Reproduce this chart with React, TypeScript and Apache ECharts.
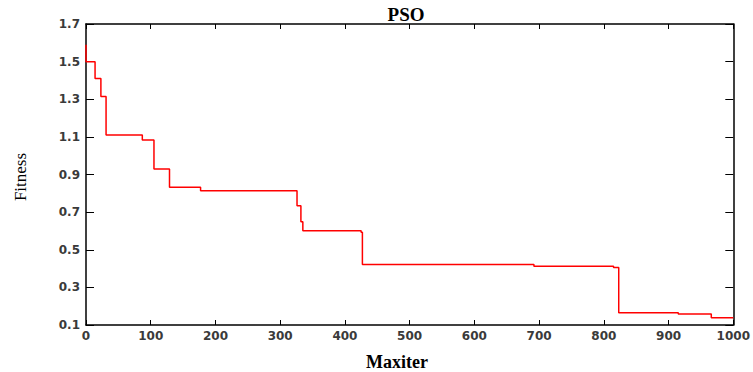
import React, { useEffect, useRef } from "react";
import * as echarts from "echarts";

const iterX: number[] = [0, 0, 14, 23, 31, 87, 105, 129, 177, 326, 332, 335, 425, 427, 692, 815, 823, 915, 966, 1000];
const fitnessY: number[] = [1.59, 1.5, 1.41, 1.314, 1.11, 1.083, 0.929, 0.832, 0.814, 0.734, 0.649, 0.601, 0.593, 0.422, 0.412, 0.405, 0.165, 0.158, 0.139, 0.139];
const titleText = "PSO";
const xName = "Maxiter";
const yName = "Fitness";

export default function App() {
  const ref = useRef<HTMLDivElement>(null);
  useEffect(() => {
    if (!ref.current) return;
    const chart = echarts.init(ref.current, null, { renderer: "svg" });
    const data = iterX.map((x, i) => [x, fitnessY[i]]);
    const axisLine = { show: true, onZero: false, lineStyle: { color: "#000", width: 1.5 } };
    const labelStyle = { fontFamily: "DejaVu Sans", fontSize: 12, fontWeight: "bold" as const, color: "#3a3a3a" };
    chart.setOption({
      animation: false,
      backgroundColor: "#fff",
      grid: { left: 86, top: 24, width: 649, height: 301, containLabel: false },
      graphic: [
        { type: "text", x: 406, y: 14, style: { text: titleText, font: "bold 19px 'Liberation Serif'", fill: "#000", align: "center", verticalAlign: "middle" } },
        { type: "text", x: 397, y: 362, style: { text: xName, font: "bold 18px 'Liberation Serif'", fill: "#000", align: "center", verticalAlign: "middle" } },
        { type: "text", x: 20, y: 177, rotation: Math.PI / 2, style: { text: yName, font: "17px 'Liberation Serif'", fill: "#000", align: "center", verticalAlign: "middle" } },
      ],
      xAxis: [
        {
          type: "value", min: 0, max: 1000, interval: 100, position: "bottom",
          axisLine, axisTick: { show: true, inside: true, length: 5, lineStyle: { color: "#000", width: 1 } },
          axisLabel: { ...labelStyle, margin: 5, formatter: (v: number) => String(v) }, splitLine: { show: false },
        },
        {
          type: "value", min: 0, max: 1000, interval: 100, position: "top",
          axisLine, axisTick: { show: true, inside: true, length: 5, lineStyle: { color: "#000", width: 1 } },
          axisLabel: { show: false }, splitLine: { show: false },
        },
      ],
      yAxis: [
        {
          type: "value", min: 0.1, max: 1.7, interval: 0.2, position: "left",
          axisLine, axisTick: { show: true, inside: true, length: 8, lineStyle: { color: "#000", width: 1 } },
          axisLabel: { ...labelStyle, margin: 6, formatter: (v: number) => v.toFixed(1) }, splitLine: { show: false },
        },
        {
          type: "value", min: 0.1, max: 1.7, interval: 0.2, position: "right",
          axisLine, axisTick: { show: true, inside: true, length: 8, lineStyle: { color: "#000", width: 1 } },
          axisLabel: { show: false }, splitLine: { show: false },
        },
      ],
      series: [
        {
          type: "line", step: "end", data, xAxisIndex: 0, yAxisIndex: 0,
          showSymbol: false, symbol: "none",
          lineStyle: { color: "#ff0000", width: 1.5 },
        },
      ],
    });
    return () => chart.dispose();
  }, []);
  return <div ref={ref} style={{ position: "fixed", left: 0, top: 0, width: 753, height: 372 }} />;
}
